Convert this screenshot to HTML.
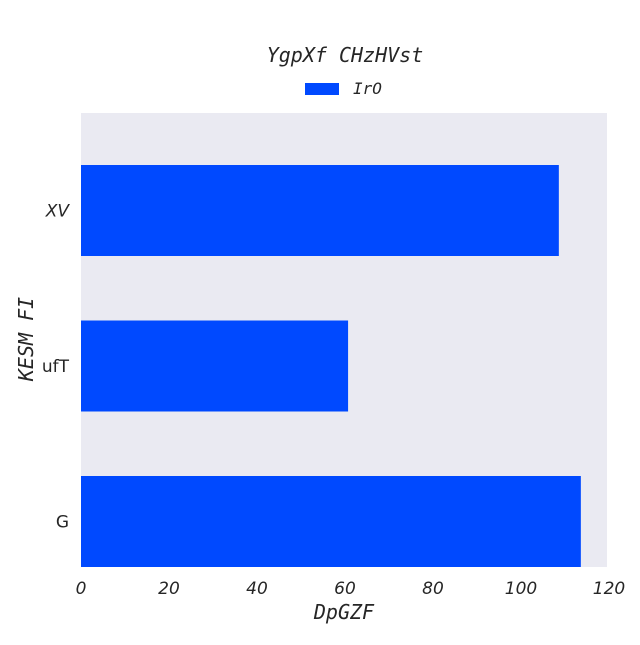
<!DOCTYPE html>
<html><head><meta charset="utf-8"><style>body{margin:0;background:#fff}</style></head>
<body>
<svg id="chart" width="640" height="640" xmlns="http://www.w3.org/2000/svg" font-family="DejaVu Sans, sans-serif">
<rect x="81" y="113" width="526" height="454" fill="#eaeaf2"/>
<text x="345" y="62" text-anchor="middle" font-family="DejaVu Sans Mono, monospace" font-style="italic" font-size="20" fill="#262626">YgpXf CHzHVst</text>
<rect x="305" y="83" width="34" height="12" fill="#0049ff"/>
<text x="353" y="94" font-family="DejaVu Sans Mono, monospace" font-style="italic" font-size="16" fill="#262626">IrO</text>
<text x="344" y="619" text-anchor="middle" font-family="DejaVu Sans Mono, monospace" font-style="italic" font-size="20" fill="#262626">DpGZF</text>
<text transform="translate(33,339) rotate(-90)" text-anchor="middle" font-family="DejaVu Sans Mono, monospace" font-style="italic" font-size="20" fill="#262626">KESM FI</text>
<g id="bars"></g><g id="xticks"></g><g id="yticks"></g>
</svg>
<script>
const categories = ["XV", "ufT", "G"];
const values = [108.6, 60.7, 113.6];
const xTicks = [0, 20, 40, 60, 80, 100, 120];
const catItalic = [true, false, false];
const NS = "http://www.w3.org/2000/svg";
const x0 = 81, pxPer = 4.4;
function xs(v) { return x0 + v * pxPer; }
function yc(i) { return 210.5 + i * 155.5; }
const barH = 91;
const bars = document.getElementById('bars');
categories.forEach((c, i) => {
  const r = document.createElementNS(NS, 'rect');
  
  
  r.setAttribute('x', xs(0)); r.setAttribute('y', yc(i) - barH / 2);
  r.setAttribute('width', xs(values[i]) - xs(0)); r.setAttribute('height', barH);
  r.setAttribute('fill', '#0049ff');
  bars.appendChild(r);
  const t = document.createElementNS(NS, 'text');
  
  
  t.setAttribute('x', 69); t.setAttribute('y', yc(i) + 6);
  t.setAttribute('text-anchor', 'end'); t.setAttribute('font-size', '17');
  if (catItalic[i]) t.setAttribute('font-style', 'italic');
  t.setAttribute('fill', '#262626'); t.textContent = c;
  document.getElementById('yticks').appendChild(t);
});
xTicks.forEach(v => {
  const t = document.createElementNS(NS, 'text');
  
  
  t.setAttribute('x', xs(v)); t.setAttribute('y', 594);
  t.setAttribute('text-anchor', 'middle'); t.setAttribute('font-size', '17');
  t.setAttribute('font-style', 'italic'); t.setAttribute('fill', '#262626');
  t.textContent = v;
  document.getElementById('xticks').appendChild(t);
});
</script>
</body></html>
